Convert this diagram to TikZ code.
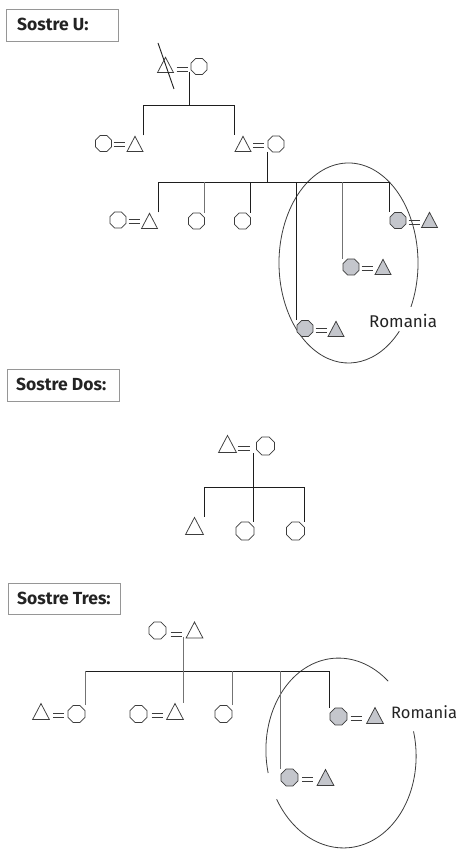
\documentclass[tikz,border=0pt]{standalone}
\usepackage{fontspec}
\setmainfont{Fira Sans}
\usetikzlibrary{shapes.geometric,calc}
\definecolor{symline}{RGB}{60,60,60}
\definecolor{romfill}{RGB}{196,198,204}
\definecolor{linkc}{RGB}{30,30,30}
\definecolor{linkg}{RGB}{115,115,115}
\definecolor{boxc}{RGB}{150,150,150}
\definecolor{textc}{RGB}{35,35,35}
\begin{document}
\begin{tikzpicture}[x=1pt,y=1pt,
  link/.style={draw=linkc, line width=0.9pt},
  softlink/.style={draw=linkg, line width=0.9pt},
  oct/.style={regular polygon, regular polygon sides=8, minimum size=17.3pt,
    inner sep=0pt, draw=symline, line width=0.75pt, fill=white},
  tri/.style={regular polygon, regular polygon sides=3, minimum size=18.5pt,
    inner sep=0pt, draw=symline, line width=0.75pt, fill=white,
    yscale=1.1, anchor=south},
  ro/.style={fill=romfill},
  mid/.style={scale=1.05},
  big/.style={scale=1.12},
  eqline/.style={draw=symline, line width=0.75pt},
  eqs/.pic={\draw[eqline] (-5.5,1.9) -- (5.5,1.9) (-5.5,-1.9) -- (5.5,-1.9);},
  eqsb/.pic={\draw[eqline] (-6.2,2.1) -- (6.2,2.1) (-6.2,-2.1) -- (6.2,-2.1);},
  ring/.style={draw=symline, line width=0.8pt},
  titlebox/.style={draw=boxc, line width=0.8pt, anchor=north west,
    minimum width=112pt, minimum height=32pt, inner sep=0pt},
  titletext/.style={anchor=west, inner sep=0pt,
    font=\bfseries\fontsize{17.5pt}{20pt}\selectfont, text=textc},
  place/.style={font=\fontsize{17pt}{20pt}\selectfont, text=textc,
    inner sep=0pt, anchor=base west}
]
\useasboundingbox (0,0) rectangle (459,-850);

% ---------------- Sostre U ----------------
\node[titlebox] (tU) at (6,-9) {};
\node[titletext] (tUt) at ([xshift=11pt,yshift=0.5pt]tU.west) {Sostre U:};

% Romania circle, open where the label sits
\draw[ring] ([shift={(-26:69.5 and 100)}]348.5,-263)
  arc[start angle=-26, end angle=317, x radius=69.5, y radius=100];

% first generation
\node[tri] (u1a) at (165.5,-73) {};
\node[oct] (u1b) at (199,-66.5) {};
\pic at (182,-69.5) {eqs};
\draw[link] (158,-43) -- (174,-89);
\coordinate (u1d) at (189,-72);
\coordinate (u1bar) at (0,-105);

% second generation
\node[oct] (u2a) at (103.5,-143.5) {};
\pic at (119,-144.5) {eqs};
\node[tri] (u2b) at (135,-152) {};
\node[tri] (u3a) at (243,-152) {};
\pic at (258.5,-145) {eqs};
\node[oct] (u3b) at (276,-144) {};
\coordinate (u3d) at (267,-152);
\coordinate (u3bar) at (0,-182);

% third generation
\node[oct] (u4a) at (118,-220) {};
\pic at (134,-221) {eqs};
\node[tri] (u4b) at (149.5,-229) {};
\node[oct] (u5) at (196.5,-221) {};
\node[oct] (u6) at (242.5,-221) {};
\node[oct,ro] (u7a) at (305,-328.5) {};
\pic at (321,-330) {eqs};
\node[tri,ro] (u7b) at (336,-337) {};
\node[oct,ro] (u8a) at (351,-267) {};
\pic at (367,-268) {eqs};
\node[tri,ro] (u8b) at (383,-275) {};
\node[oct,ro] (u9a) at (398,-220.5) {};
\pic at (414,-222) {eqs};
\node[tri,ro] (u9b) at (429.5,-228) {};
\node[place] (rU) at (369,-327) {Romania};

% descent lines
\draw[link] (u1d) -- (u1d |- u1bar);
\coordinate (u2t) at (u2b.north -| u2b.corner 3);
\coordinate (u3t) at (u3a.north -| u3a.corner 2);
\draw[link] (u2t) |- (u3t |- u1bar) -- (u3t);

\draw[link] (u3d) -- (u3d |- u3bar);
\coordinate (u4t) at (u4b.north -| u4b.corner 3);
\coordinate (u5t) at (u5.north -| u5.east);
\coordinate (u6t) at (u6.north -| u6.east);
\coordinate (u7t) at (u7a.north -| u7a.west);
\coordinate (u8t) at (u8a.north -| u8a.west);
\coordinate (u9t) at (u9a.north -| u9a.west);
\draw[link] (u4t) |- (u9t |- u3bar) -- (u9t);
\draw[softlink] (u5t) -- (u5t |- u3bar);
\draw[link] (u6t) -- (u6t |- u3bar);
\draw[link] (u7t) -- (u7t |- u3bar);
\draw[softlink] (u8t) -- (u8t |- u3bar);

% ---------------- Sostre Dos ----------------
\node[titlebox] (tD) at (7,-369) {};
\node[titletext] (tDt) at ([xshift=9pt,yshift=0.5pt]tD.west) {Sostre Dos:};
\node[tri,big] (d1a) at (227.5,-453) {};
\pic at (244,-448.5) {eqsb};
\node[oct,big] (d1b) at (265.5,-446) {};
\coordinate (d1d) at (253,-453);
\coordinate (dbar) at (0,-487);
\node[tri,big] (d2) at (194.5,-535) {};
\node[oct,big] (d3) at (245,-531) {};
\node[oct,big] (d4) at (295.5,-531) {};
\coordinate (d2t) at (d2.north -| d2.corner 3);
\coordinate (d4t) at (d4.north -| d4.east);
\draw[link] (d2t) |- (d4t |- dbar) -- (d4t);
\draw[link] (d1d) -- (d1d |- d3.north);

% ---------------- Sostre Tres ----------------
\node[titlebox, minimum height=31pt] (tT) at (8,-583) {};
\node[titletext] (tTt) at ([xshift=9pt,yshift=0.5pt]tT.west) {Sostre Tres:};

\begin{scope}[shift={(341,-753)}, rotate=4]
  \draw[ring] (46:75 and 95) arc[start angle=46, end angle=189, x radius=75, y radius=95];
  \draw[ring] (206:75 and 95) arc[start angle=206, end angle=370, x radius=75, y radius=95];
\end{scope}

\node[oct,mid] (t1a) at (157.5,-630.5) {};
\pic at (176,-634.5) {eqs};
\node[tri,mid] (t1b) at (194.5,-638.5) {};
\coordinate (t1d) at (183,-637);
\coordinate (tbar) at (0,-671);

\node[tri,mid] (t2a) at (41,-720) {};
\pic at (58.5,-715) {eqs};
\node[oct,mid] (t2b) at (76.5,-714) {};
\node[oct,mid] (t3a) at (138.5,-714) {};
\pic at (157,-715) {eqs};
\node[tri,mid] (t3b) at (175,-720) {};
\node[oct,mid] (t4) at (223.5,-714) {};
\node[oct,mid,ro] (t5a) at (289.5,-777.5) {};
\pic at (307.5,-779) {eqs};
\node[tri,mid,ro] (t5b) at (325.5,-786) {};
\node[oct,mid,ro] (t6a) at (338.5,-716.5) {};
\pic at (356,-718) {eqs};
\node[tri,mid,ro] (t6b) at (375,-724) {};
\node[place, font=\fontsize{16.5pt}{20pt}\selectfont] (rT) at (391,-718) {Romania};

\coordinate (t2t) at (t2b.north -| t2b.east);
\coordinate (t4t) at (t4.north -| t4.east);
\coordinate (t5t) at (t5a.north -| t5a.west);
\coordinate (t6t) at (t6a.north -| t6a.west);
\draw[link] (t2t |- tbar) -- (t6t |- tbar);
\draw[softlink] (t2t) -- (t2t |- tbar);
\draw[link] (t6t) -- (t6t |- tbar);
\draw[softlink] (t4t) -- (t4t |- tbar);
\draw[softlink] (t5t) -- (t5t |- tbar);
\draw[softlink] (t1d) -- (t1d |- t3b.north);
\end{tikzpicture}
\end{document}
